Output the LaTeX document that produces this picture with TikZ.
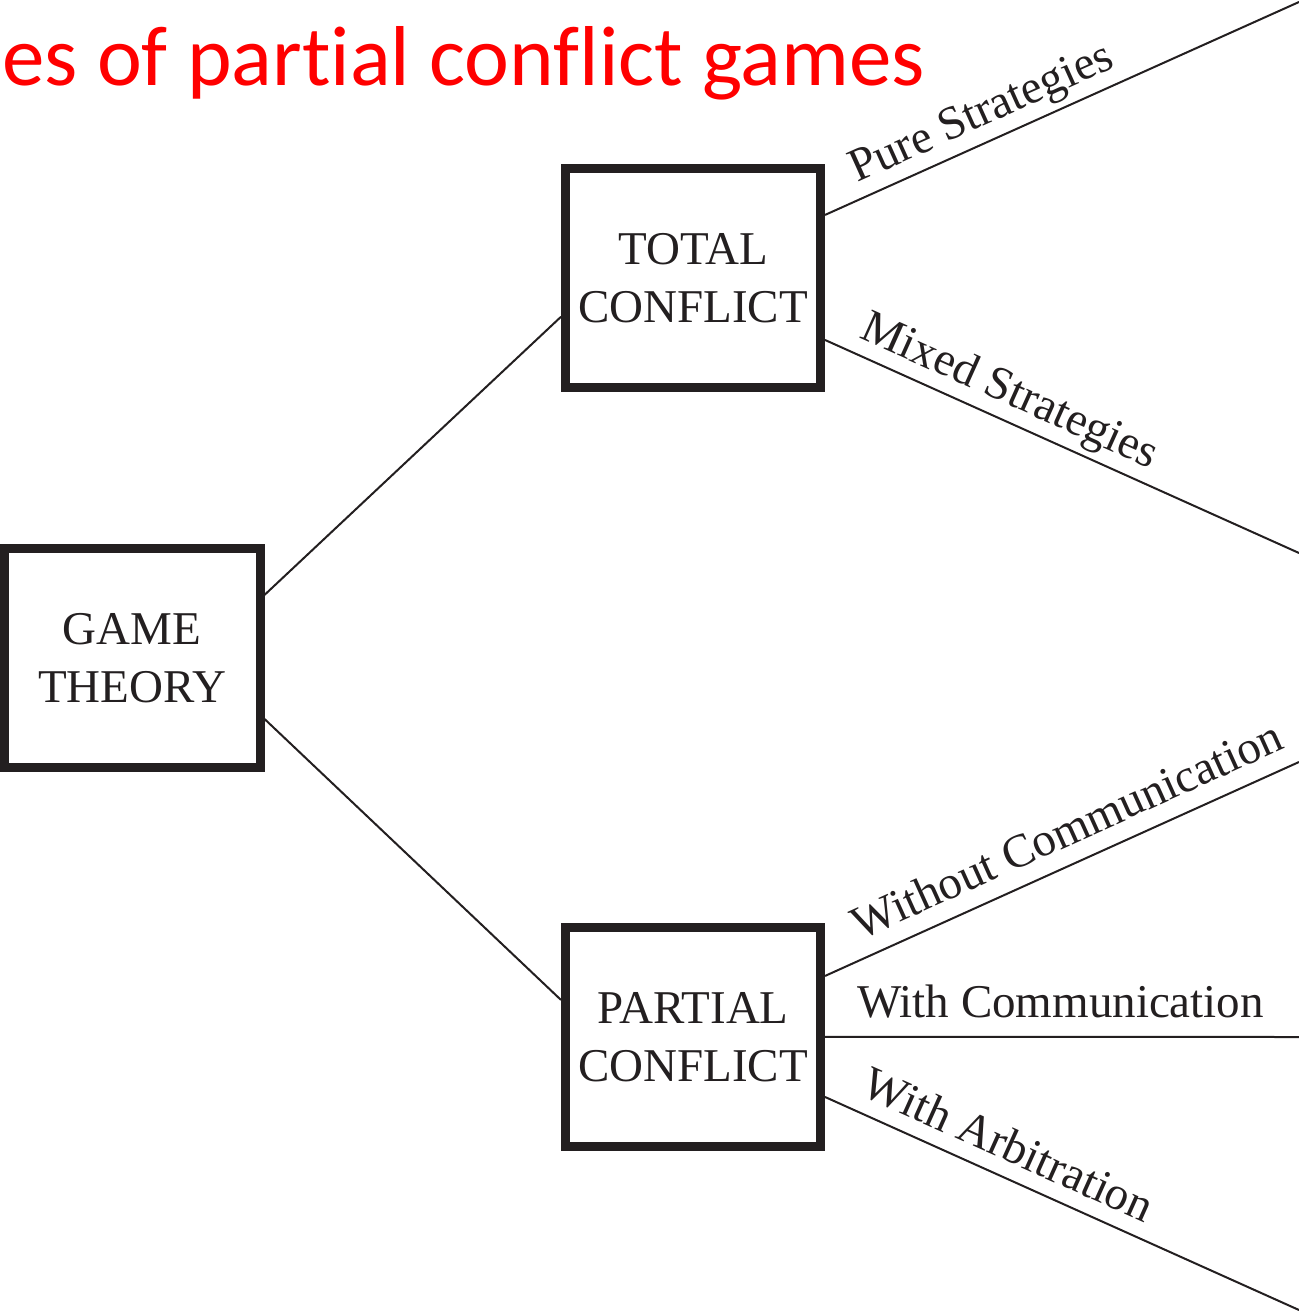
\documentclass[tikz,border=0pt]{standalone}
\usepackage{fontspec}
\setmainfont{Liberation Serif}
\newfontfamily\titlefont[RawFeature=-liga]{Carlito}
\definecolor{ink}{HTML}{231F20}
\definecolor{titlered}{HTML}{FF0000}
\tikzset{
  box/.style={draw=ink, line width=4.5pt, minimum width=127.5pt, minimum height=109.75pt,
    align=center, font=\fontsize{23.5}{29}\selectfont, text=ink, inner sep=0pt},
  conn/.style={draw=ink, line width=1pt},
  lbl/.style={font=\fontsize{23.5}{29}\selectfont, text=ink, sloped, inner sep=0pt},
}
\begin{document}
\begin{tikzpicture}[x=0.5pt,y=-0.5pt]
\useasboundingbox (0,0) rectangle (1299,1311);
\node[anchor=base west, inner sep=0pt, text=titlered, font=\titlefont\fontsize{42.5}{50}\selectfont] (title) at (2,86) {es of partial conflict games};
\node[box, minimum width=128pt] (gt) at (132,657.75) {GAME\\THEORY};
\node[box] (tc) at (693,277.75) {TOTAL\\CONFLICT};
\node[box] (pc) at (693,1036.75) {PARTIAL\\CONFLICT};
\coordinate (e1) at (1299,2);
\coordinate (e2) at (1299,553);
\coordinate (e3) at (1299,762);
\coordinate (e4) at (1299,1037);
\coordinate (e5) at (1299,1310);
\draw[conn] ([yshift=31.4pt]gt.east) -- ([yshift=-19.5pt]tc.west);
\draw[conn] ([yshift=-30.6pt]gt.east) -- ([yshift=18.4pt]pc.west);
\draw[conn] ([yshift=31.4pt]tc.east) -- (e1)
  node[lbl, pos=0.355, above=8pt, anchor=base] (l1) {Pure Strategies};
\draw[conn] ([yshift=-31.1pt]tc.east) -- (e2)
  node[lbl, pos=0.365, above=8pt, anchor=base] (l2) {Mixed Strategies};
\draw[conn] ([yshift=30.4pt]pc.east) -- (e3)
  node[lbl, pos=0.54, above=9pt, anchor=base] (l3) {Without Communication};
\draw[conn] (pc.east) -- (e4)
  node[lbl, pos=0.497, above=9.5pt, anchor=base] (l4) {With Communication};
\draw[conn] ([yshift=-30.1pt]pc.east) -- (e5)
  node[lbl, pos=0.36, above=8pt, anchor=base] (l5) {With Arbitration};
\end{tikzpicture}
\end{document}
